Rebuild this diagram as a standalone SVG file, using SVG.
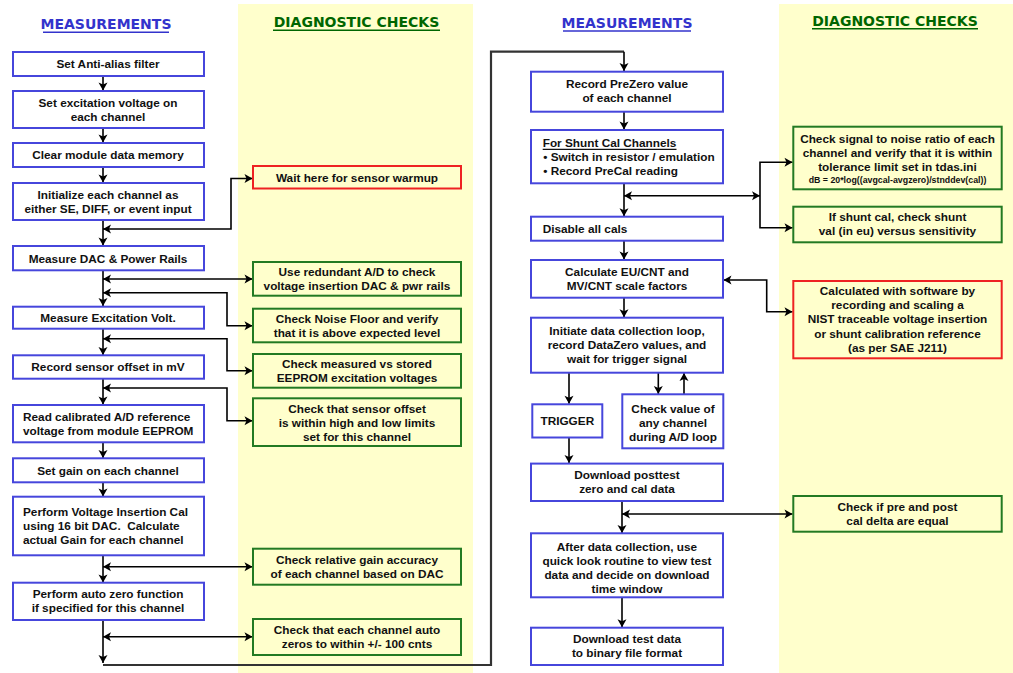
<svg xmlns="http://www.w3.org/2000/svg" width="1013" height="673" viewBox="0 0 1013 673">
<defs>
<marker id="ah" markerUnits="userSpaceOnUse" markerWidth="12" markerHeight="12" viewBox="-1 -6 12 12" refX="8" refY="0" orient="auto-start-reverse">
<path d="M0,-4.5 L8,0 L0,4.5 L2,0 z" fill="#000"/>
</marker>
<style>
.m{fill:#fff;stroke:#4646dc;stroke-width:2}
.g{fill:#ffffcc;stroke:#237a23;stroke-width:2}
.rw{fill:#ffffcc;stroke:#ee2222;stroke-width:2}
.t{font-family:"Liberation Sans",Arial,sans-serif;font-weight:bold;font-size:11.8px;fill:#111;text-anchor:middle}
.tl{font-family:"Liberation Sans",Arial,sans-serif;font-weight:bold;font-size:11.8px;fill:#111;text-anchor:start}
.s{font-family:"Liberation Sans",Arial,sans-serif;font-weight:bold;font-size:8.8px;fill:#111;text-anchor:middle}
.h{font-family:"DejaVu Sans",Verdana,sans-serif;font-weight:bold;font-size:14px;text-anchor:middle}
.c{fill:none;stroke:#000;stroke-width:1.6}
.loop{fill:none;stroke:#333;stroke-width:2.2}
</style>
</defs>
<rect x="0" y="0" width="1013" height="673" fill="#fff"/>
<rect x="238" y="4" width="235" height="669" fill="#ffffcc"/>
<rect x="779" y="4" width="234" height="669" fill="#ffffcc"/>

<g id="headers">
<text class="h" x="106" y="29.3" fill="#3333cc">MEASUREMENTS</text>
<line x1="43" y1="32.3" x2="169" y2="32.3" stroke="#3333cc" stroke-width="1.5"/>
<text class="h" x="356.5" y="27.3" fill="#006600">DIAGNOSTIC CHECKS</text>
<line x1="273" y1="30.3" x2="440" y2="30.3" stroke="#006600" stroke-width="1.5"/>
<text class="h" x="627" y="27.7" fill="#3333cc">MEASUREMENTS</text>
<line x1="563" y1="31" x2="691" y2="31" stroke="#3333cc" stroke-width="1.5"/>
<text class="h" x="895" y="25.7" fill="#006600">DIAGNOSTIC CHECKS</text>
<line x1="812" y1="28.7" x2="978" y2="28.7" stroke="#006600" stroke-width="1.5"/>
</g>

<g id="connectors">
<path class="loop" d="M103,665 H491 V51.7 H624"/>
<path class="c" d="M624,51.7 V71" marker-end="url(#ah)"/>
<path class="c" d="M103,76 V90.5" marker-end="url(#ah)"/>
<path class="c" d="M103,128 V142.5" marker-end="url(#ah)"/>
<path class="c" d="M103,167 V182.5" marker-end="url(#ah)"/>
<path class="c" d="M103,220 V245.5" marker-end="url(#ah)"/>
<path class="c" d="M103,229 H231 V178.5 H252.5" marker-start="url(#ah)" marker-end="url(#ah)"/>
<path class="c" d="M103,270 V306" marker-end="url(#ah)"/>
<path class="c" d="M103,279 H252.5" marker-start="url(#ah)" marker-end="url(#ah)"/>
<path class="c" d="M103,292.7 H227 V325.7 H252.5" marker-start="url(#ah)" marker-end="url(#ah)"/>
<path class="c" d="M103,329 V355" marker-end="url(#ah)"/>
<path class="c" d="M103,338.7 H227 V370.7 H252.5" marker-start="url(#ah)" marker-end="url(#ah)"/>
<path class="c" d="M103,379 V404.5" marker-end="url(#ah)"/>
<path class="c" d="M103,388 H227 V420.7 H252.5" marker-start="url(#ah)" marker-end="url(#ah)"/>
<path class="c" d="M103,442.5 V458" marker-end="url(#ah)"/>
<path class="c" d="M103,482.5 V496.5" marker-end="url(#ah)"/>
<path class="c" d="M103,555.5 V582.5" marker-end="url(#ah)"/>
<path class="c" d="M103,566.7 H252.5" marker-start="url(#ah)" marker-end="url(#ah)"/>
<path class="c" d="M103,620 V663" marker-end="url(#ah)"/>
<path class="c" d="M103,636.7 H252.5" marker-start="url(#ah)" marker-end="url(#ah)"/>

<path class="c" d="M624,111.7 V129.5" marker-end="url(#ah)"/>
<path class="c" d="M624,183.3 V216.3" marker-end="url(#ah)"/>
<path class="c" d="M624,195.7 H760" marker-start="url(#ah)" marker-end="url(#ah)"/>
<path class="c" d="M792.5,162.3 H760 V227.7 H792.5" marker-start="url(#ah)" marker-end="url(#ah)"/>
<path class="c" d="M624,240.7 V259.5" marker-end="url(#ah)"/>
<path class="c" d="M723.5,280 H766.7 V311.7 H792.5" marker-start="url(#ah)" marker-end="url(#ah)"/>
<path class="c" d="M624,297.7 V317.3" marker-end="url(#ah)"/>
<path class="c" d="M569,372.7 V403.8" marker-end="url(#ah)"/>
<path class="c" d="M658.3,372.7 V394" marker-end="url(#ah)"/>
<path class="c" d="M684,394.3 V373" marker-end="url(#ah)"/>
<path class="c" d="M569,437.5 V463" marker-end="url(#ah)"/>
<path class="c" d="M622,501 V533" marker-end="url(#ah)"/>
<path class="c" d="M622,514 H792.5" marker-start="url(#ah)" marker-end="url(#ah)"/>
<path class="c" d="M622,597.3 V627.3" marker-end="url(#ah)"/>
</g>

<g id="n-anti-alias"><rect class="m" x="13" y="52" width="191" height="24"/><text class="t" x="108" y="68.3">Set Anti-alias filter</text></g>
<g id="n-excitation"><rect class="m" x="13" y="91" width="191" height="37"/><text class="t" x="108" y="106.7">Set excitation voltage on</text><text class="t" x="108" y="120.7">each channel</text></g>
<g id="n-clear"><rect class="m" x="13" y="143" width="191" height="24"/><text class="t" x="108" y="159.3">Clear module data memory</text></g>
<g id="n-init"><rect class="m" x="13" y="183" width="191" height="37"/><text class="t" x="108" y="198.7">Initialize each channel as</text><text class="t" x="108" y="212.7">either SE, DIFF, or event input</text></g>
<g id="n-dac"><rect class="m" x="13" y="246" width="191" height="24.3"/><text class="t" x="108" y="262.5">Measure DAC &amp; Power Rails</text></g>
<g id="n-exc-volt"><rect class="m" x="13" y="306.7" width="191" height="22"/><text class="t" x="108" y="322">Measure Excitation Volt.</text></g>
<g id="n-offset"><rect class="m" x="13" y="355.3" width="191" height="23.4"/><text class="t" x="108" y="371.3">Record sensor offset in mV</text></g>
<g id="n-read-cal"><rect class="m" x="13" y="405" width="191" height="37.3"/><text class="tl" x="23" y="420.5">Read calibrated A/D reference</text><text class="tl" x="23" y="434.5">voltage from module EEPROM</text></g>
<g id="n-gain"><rect class="m" x="13" y="458.3" width="191" height="24"/><text class="t" x="108" y="474.6">Set gain on each channel</text></g>
<g id="n-vic"><rect class="m" x="13" y="496.7" width="191" height="58.6"/><text class="tl" x="23" y="515.5">Perform Voltage Insertion Cal</text><text class="tl" x="23" y="529.5" xml:space="preserve">using 16 bit DAC.  Calculate</text><text class="tl" x="23" y="543.5">actual Gain for each channel</text></g>
<g id="n-autozero"><rect class="m" x="13" y="582.7" width="191" height="37.3"/><text class="t" x="108" y="598.3">Perform auto zero function</text><text class="t" x="108" y="612.3">if specified for this channel</text></g>

<g id="d-warmup"><rect class="rw" x="253" y="166" width="208" height="22.5"/><text class="t" x="357" y="181.5">Wait here for sensor warmup</text></g>
<g id="d-redundant"><rect class="g" x="253" y="262" width="208" height="33.7"/><text class="t" x="357" y="276">Use redundant A/D to check</text><text class="t" x="357" y="290">voltage insertion DAC &amp; pwr rails</text></g>
<g id="d-noise"><rect class="g" x="253" y="308.7" width="208" height="33.6"/><text class="t" x="357" y="322.7">Check Noise Floor and verify</text><text class="t" x="357" y="336.7">that it is above expected level</text></g>
<g id="d-eeprom"><rect class="g" x="253" y="354" width="208" height="33.7"/><text class="t" x="357" y="368">Check measured vs stored</text><text class="t" x="357" y="382">EEPROM excitation voltages</text></g>
<g id="d-limits"><rect class="g" x="253" y="398.3" width="208" height="47.7"/><text class="t" x="357" y="412.7">Check that sensor offset</text><text class="t" x="357" y="426.7">is within high and low limits</text><text class="t" x="357" y="440.7">set for this channel</text></g>
<g id="d-gain-acc"><rect class="g" x="253" y="548.7" width="208" height="36"/><text class="t" x="357" y="563.7">Check relative gain accuracy</text><text class="t" x="357" y="577.7">of each channel based on DAC</text></g>
<g id="d-autozero"><rect class="g" x="253" y="619" width="208" height="36"/><text class="t" x="357" y="634">Check that each channel auto</text><text class="t" x="357" y="648">zeros to within +/- 100 cnts</text></g>

<g id="n-prezero"><rect class="m" x="531" y="71.7" width="192" height="40"/><text class="t" x="627" y="88.3">Record PreZero value</text><text class="t" x="627" y="102.3">of each channel</text></g>
<g id="n-shunt"><rect class="m" x="531" y="130" width="192" height="53.3"/><text class="tl" x="542.7" y="146.7">For Shunt Cal Channels</text><line x1="542.7" y1="149.3" x2="676.5" y2="149.3" stroke="#111" stroke-width="1.2"/><text class="tl" x="543.3" y="160.7">• Switch in resistor / emulation</text><text class="tl" x="543.3" y="174.7">• Record PreCal reading</text></g>
<g id="n-disable"><rect class="m" x="531" y="216.7" width="192" height="24"/><text class="tl" x="542.7" y="233">Disable all cals</text></g>
<g id="n-eucnt"><rect class="m" x="531" y="260" width="192" height="37.7"/><text class="t" x="627" y="276">Calculate EU/CNT and</text><text class="t" x="627" y="290">MV/CNT scale factors</text></g>
<g id="n-initiate"><rect class="m" x="531" y="317.7" width="192" height="55"/><text class="t" x="627" y="335">Initiate data collection loop,</text><text class="t" x="627" y="349">record DataZero values, and</text><text class="t" x="627" y="363">wait for trigger signal</text></g>
<g id="n-trigger"><rect class="m" x="532.3" y="404.3" width="70" height="33.2"/><text class="t" x="567.3" y="425">TRIGGER</text></g>
<g id="n-checkval"><rect class="m" x="622.3" y="394.3" width="101" height="54"/><text class="t" x="673" y="412.5">Check value of</text><text class="t" x="673" y="426.5">any channel</text><text class="t" x="673" y="440.5">during A/D loop</text></g>
<g id="n-posttest"><rect class="m" x="531" y="463.6" width="192" height="37.4"/><text class="t" x="627" y="479">Download posttest</text><text class="t" x="627" y="493">zero and cal data</text></g>
<g id="n-quicklook"><rect class="m" x="531" y="533.3" width="192" height="64"/><text class="t" x="627" y="550.5">After data collection, use</text><text class="t" x="627" y="564.5">quick look routine to view test</text><text class="t" x="627" y="578.5">data and decide on download</text><text class="t" x="627" y="592.5">time window</text></g>
<g id="n-download"><rect class="m" x="531" y="627.7" width="192" height="37.3"/><text class="t" x="627" y="643.3">Download test data</text><text class="t" x="627" y="657.3">to binary file format</text></g>

<g id="d-snr"><rect class="g" x="793.3" y="126.7" width="208.4" height="62.6"/><text class="t" x="897.5" y="142.7">Check signal to noise ratio of each</text><text class="t" x="897.5" y="156.7">channel and verify that it is within</text><text class="t" x="897.5" y="170.7">tolerance limit set in tdas.ini</text><text class="s" x="897.5" y="182.7">dB = 20*log((avgcal-avgzero)/stnddev(cal))</text></g>
<g id="d-shuntval"><rect class="g" x="793.3" y="206.7" width="208.4" height="35.6"/><text class="t" x="897.5" y="221.3">If shunt cal, check shunt</text><text class="t" x="897.5" y="235.3">val (in eu) versus sensitivity</text></g>
<g id="d-nist"><rect class="rw" x="793.3" y="281" width="208.4" height="77.3"/><text class="t" x="897.5" y="295">Calculated with software by</text><text class="t" x="897.5" y="309.2">recording and scaling a</text><text class="t" x="897.5" y="323.4">NIST traceable voltage insertion</text><text class="t" x="897.5" y="337.6">or shunt calibration reference</text><text class="t" x="897.5" y="351.8">(as per SAE J211)</text></g>
<g id="d-prepost"><rect class="g" x="793.3" y="496" width="208.4" height="35.7"/><text class="t" x="897.5" y="511">Check if pre and post</text><text class="t" x="897.5" y="525">cal delta are equal</text></g>
</svg>
